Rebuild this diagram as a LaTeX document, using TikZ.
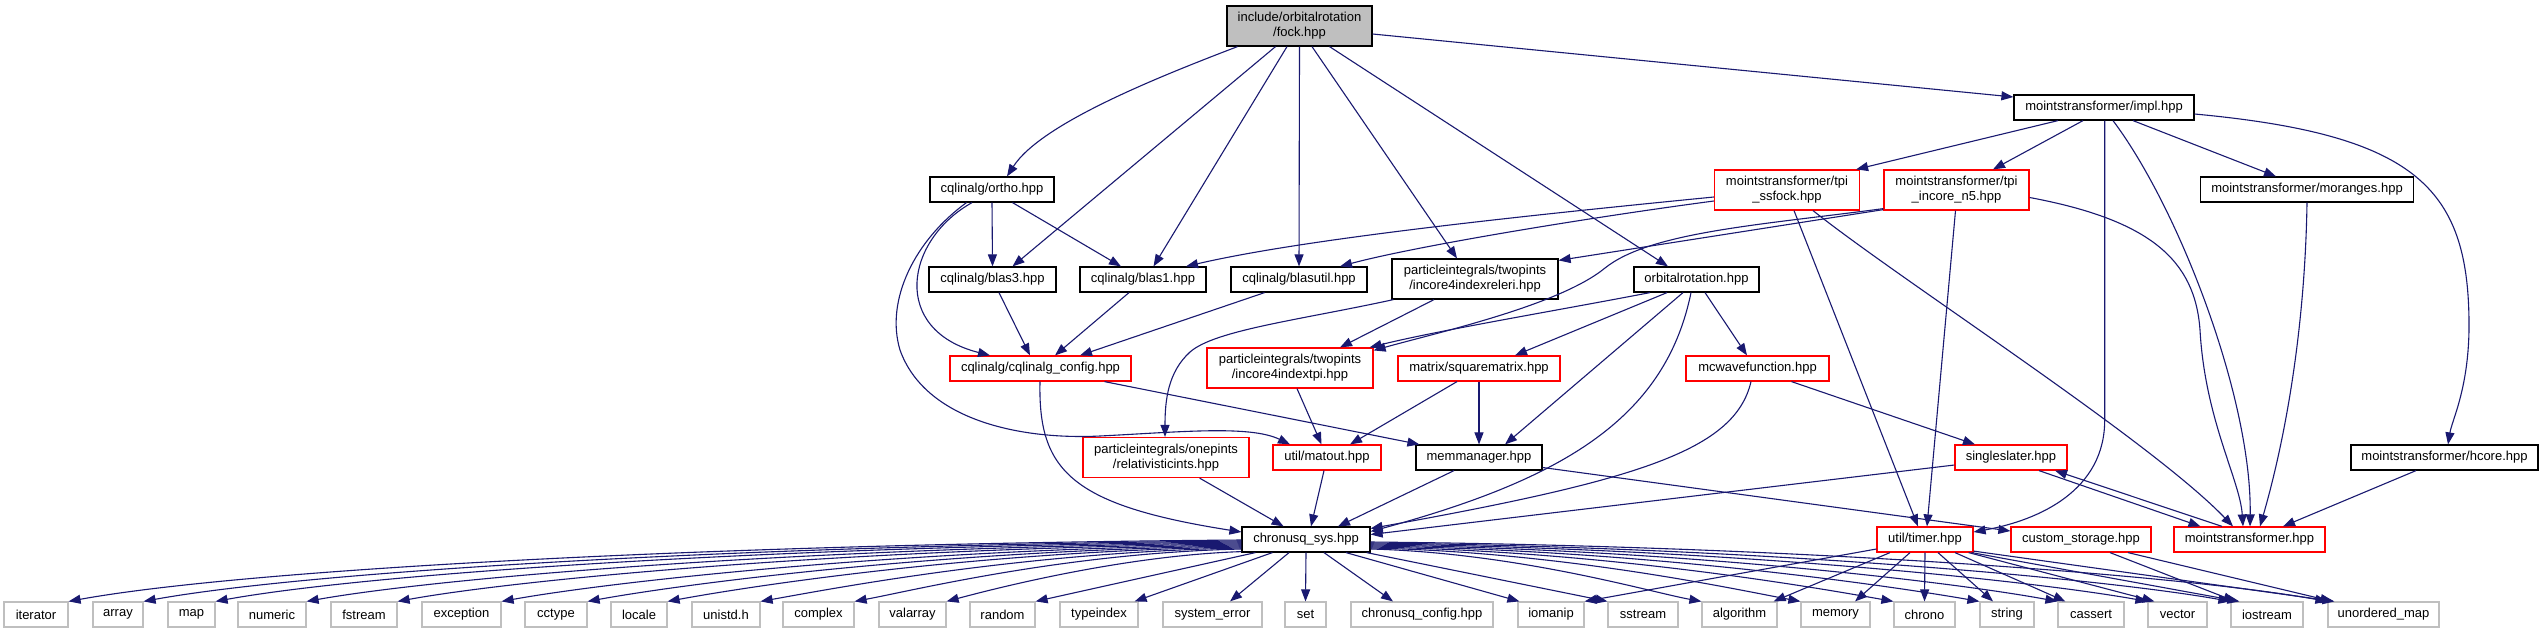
\documentclass[tikz,border=0pt]{standalone}
\usepackage{fontspec}
\setmainfont{Liberation Sans}
\usetikzlibrary{arrows.meta}
\definecolor{edgecol}{HTML}{191970}
\definecolor{lgray}{HTML}{BFBFBF}
\definecolor{nred}{HTML}{FF0000}
\begin{document}
\begin{tikzpicture}[x=1pt,y=-1pt,
  nd/.style={rectangle, line width=1.2pt, fill=white, inner sep=0pt, align=center,
    font=\fontsize{13}{15}\selectfont, minimum height=25pt},
  blk/.style={nd, draw=black},
  rednd/.style={nd, draw=nred},
  gry/.style={nd, draw=lgray},
  rootnd/.style={nd, draw=black, fill=lgray},
  tall/.style={minimum height=40pt},
  edg/.style={draw=edgecol, line width=1.1pt, -{Triangle[length=12pt,width=9pt]}}]
\fill[white] (0,0) rectangle (2544,633);
\useasboundingbox (0,0) rectangle (2544,633);

% ---------- nodes ----------
\node[rootnd, tall, minimum width=145pt] (fock) at (1299.5,26) {include/orbitalrotation\\/fock.hpp};
\node[blk, minimum width=180pt] (impl) at (2104,107.5) {mointstransformer/impl.hpp};
\node[blk, minimum width=124pt] (ortho) at (992,189.5) {cqlinalg/ortho.hpp};
\node[rednd, tall, minimum width=145pt] (ssfock) at (1787,190) {mointstransformer/tpi\\\_ssfock.hpp};
\node[rednd, tall, minimum width=145pt] (n5) at (1956.5,190) {mointstransformer/tpi\\\_incore\_n5.hpp};
\node[blk, minimum width=213pt] (moranges) at (2307,189.5) {mointstransformer/moranges.hpp};
\node[blk, minimum width=127pt] (blas3) at (992.5,279.5) {cqlinalg/blas3.hpp};
\node[blk, minimum width=126pt] (blas1) at (1143,279.5) {cqlinalg/blas1.hpp};
\node[blk, minimum width=136pt] (blasutil) at (1299,279.5) {cqlinalg/blasutil.hpp};
\node[blk, tall, minimum width=166pt] (releri) at (1475,279) {particleintegrals/twopints\\/incore4indexreleri.hpp};
\node[blk, minimum width=125pt] (orbrot) at (1696.5,279.5) {orbitalrotation.hpp};
\node[rednd, minimum width=181pt] (cqconfig) at (1040.5,368.5) {cqlinalg/cqlinalg\_config.hpp};
\node[rednd, tall, minimum width=166pt] (pti) at (1290,368) {particleintegrals/twopints\\/incore4indextpi.hpp};
\node[rednd, minimum width=162pt] (sqm) at (1479,368.5) {matrix/squarematrix.hpp};
\node[rednd, minimum width=143pt] (mcwave) at (1757.5,368.5) {mcwavefunction.hpp};
\node[rednd, tall, minimum width=166pt] (relativ) at (1166,457.5) {particleintegrals/onepints\\/relativisticints.hpp};
\node[rednd, minimum width=108pt] (matout) at (1327,457.5) {util/matout.hpp};
\node[blk, minimum width=126pt] (memman) at (1479,457.5) {memmanager.hpp};
\node[rednd, minimum width=112pt] (sslater) at (2011,457.5) {singleslater.hpp};
\node[blk, minimum width=187pt] (hcore) at (2444.5,457.5) {mointstransformer/hcore.hpp};
\node[blk, minimum width=128pt] (csys) at (1306,539.5) {chronusq\_sys.hpp};
\node[rednd, minimum width=96pt] (timer) at (1925,539.5) {util/timer.hpp};
\node[rednd, minimum width=140pt] (cstore) at (2081,539.5) {custom\_storage.hpp};
\node[rednd, minimum width=151pt] (mtrans) at (2249.5,539.5) {mointstransformer.hpp};

% bottom row
\node[gry, minimum width=64pt] (iter) at (36,614.5) {iterator};
\node[gry, minimum width=50pt] (array) at (118,614.5) {array};
\node[gry, minimum width=47pt] (map) at (191.5,614.5) {map};
\node[gry, minimum width=68pt] (numeric) at (272,614.5) {numeric};
\node[gry, minimum width=66pt] (fstream) at (364,614.5) {fstream};
\node[gry, minimum width=79pt] (exception) at (461.5,614.5) {exception};
\node[gry, minimum width=62pt] (cctype) at (556,614.5) {cctype};
\node[gry, minimum width=56pt] (locale) at (639,614.5) {locale};
\node[gry, minimum width=68pt] (unistd) at (726,614.5) {unistd.h};
\node[gry, minimum width=71pt] (complex) at (818.5,614.5) {complex};
\node[gry, minimum width=67pt] (valarray) at (912.5,614.5) {valarray};
\node[gry, minimum width=65pt] (random) at (1002.5,614.5) {random};
\node[gry, minimum width=78pt] (typeindex) at (1099,614.5) {typeindex};
\node[gry, minimum width=99pt] (syserr) at (1212.5,614.5) {system\_error};
\node[gry, minimum width=41pt] (set) at (1305.5,614.5) {set};
\node[gry, minimum width=142pt] (cqcfg) at (1422,614.5) {chronusq\_config.hpp};
\node[gry, minimum width=66pt] (iomanip) at (1551,614.5) {iomanip};
\node[gry, minimum width=70pt] (sstream) at (1643,614.5) {sstream};
\node[gry, minimum width=75pt] (algorithm) at (1739.5,614.5) {algorithm};
\node[gry, minimum width=69pt] (memory) at (1835.5,614.5) {memory};
\node[gry, minimum width=61pt] (chrono) at (1924.5,614.5) {chrono};
\node[gry, minimum width=54pt] (string) at (2007,614.5) {string};
\node[gry, minimum width=66pt] (cassert) at (2091,614.5) {cassert};
\node[gry, minimum width=59pt] (vector) at (2177.5,614.5) {vector};
\node[gry, minimum width=72pt] (iostream) at (2267,614.5) {iostream};
\node[gry, minimum width=111pt] (umap) at (2383.5,614.5) {unordered\_map};

% ---------- edges ----------
% fock
\draw[edg] ([xshift=-62pt]fock.south) .. controls (1150,80) and (1040,125) .. ([xshift=15pt]ortho.north);
\draw[edg] ([xshift=-24pt]fock.south) -- ([xshift=20pt]blas3.north);
\draw[edg] ([xshift=-12.5pt]fock.south) -- ([xshift=10.5pt]blas1.north);
\draw[edg] (fock.south) -- (blasutil.north);
\draw[edg] ([xshift=12.5pt]fock.south) -- ([xshift=-18pt]releri.north);
\draw[edg] ([xshift=30pt]fock.south) -- ([xshift=-28.5pt]orbrot.north);
\draw[edg] ([yshift=-8pt]fock.east) -- ([yshift=10.5pt]impl.west);
% ortho
\draw[edg] (ortho.south) -- (blas3.north);
\draw[edg] ([xshift=20.5pt]ortho.south) -- ([xshift=-22pt]blas1.north);
\draw[edg] ([xshift=-20pt]ortho.south) .. controls (905,240) and (890,330) .. ([xshift=-50.5pt]cqconfig.north);
\draw[edg] ([xshift=-25.5pt]ortho.south) .. controls (915,240) and (885,300) .. (900,350)
   .. controls (925,420) and (1020,440) .. (1100,436) .. controls (1180,432) and (1250,425) .. ([xshift=-37pt]matout.north);
% blas
\draw[edg] ([xshift=6.5pt]blas3.south) -- ([xshift=-10.5pt]cqconfig.north);
\draw[edg] ([xshift=-14pt]blas1.south) -- ([xshift=14.5pt]cqconfig.north);
\draw[edg] ([xshift=-34.4pt]blasutil.south) -- ([xshift=39.5pt]cqconfig.north);
% releri
\draw[edg] ([xshift=-41pt]releri.south) -- ([xshift=50pt]pti.north);
\draw[edg] ([xshift=2pt]releri.south west) .. controls (1300,320) and (1215,330) .. (1190,352)
   .. controls (1168,372) and (1165,400) .. ([xshift=-1pt]relativ.north);
% orbitalrotation
\draw[edg] ([xshift=-46.5pt]orbrot.south) .. controls (1560,310) and (1440,330) .. ([xshift=-4pt]pti.north east);
\draw[edg] ([xshift=-29.5pt]orbrot.south) -- ([xshift=36pt]sqm.north);
\draw[edg] ([xshift=-13.5pt]orbrot.south) -- ([xshift=26pt]memman.north);
\draw[edg] ([xshift=-5.5pt]orbrot.south) .. controls (1665,420) and (1560,480) .. ([yshift=8pt]csys.east);
\draw[edg] ([xshift=8.5pt]orbrot.south) -- ([xshift=-10.5pt]mcwave.north);
% tpi_ssfock
\draw[edg] ([yshift=-7pt]ssfock.west) .. controls (1500,218) and (1300,240) .. ([xshift=43pt]blas1.north);
\draw[edg] ([yshift=-11pt]ssfock.west) .. controls (1600,216) and (1420,245) .. ([xshift=41pt]blasutil.north);
\draw[edg] ([xshift=7pt]ssfock.south) -- ([xshift=-7pt]timer.north);
\draw[edg] ([xshift=26pt]ssfock.south) .. controls (1900,280) and (2150,440) .. ([xshift=-16.5pt]mtrans.north);
% tpi_incore_n5
\draw[edg] ([yshift=1pt]n5.south west) -- ([yshift=-2pt]releri.north east);
\draw[edg] ([yshift=2pt]n5.south west) .. controls (1760,225) and (1650,232) .. (1605,268)
   .. controls (1560,305) and (1440,332) .. ([yshift=-3pt]pti.north east);
\draw[edg] ([xshift=-1pt]n5.south) -- ([xshift=2pt]timer.north);
\draw[edg] ([yshift=-7.5pt]n5.east) .. controls (2150,220) and (2195,260) .. (2200,330)
   .. controls (2205,420) and (2240,480) .. ([xshift=-6.5pt]mtrans.north);
% impl
\draw[edg] ([xshift=-46pt]impl.south) -- ([xshift=-4pt]ssfock.north east);
\draw[edg] ([xshift=-21pt]impl.south) -- ([xshift=36.5pt]n5.north);
\draw[edg] ([xshift=0.7pt]impl.south) -- (2104.7,420) .. controls (2104.7,490) and (2040,520) .. ([yshift=7.5pt]timer.east);
\draw[edg] ([xshift=9pt]impl.south) .. controls (2180,210) and (2252,400) .. ([xshift=0.5pt]mtrans.north);
\draw[edg] ([xshift=29pt]impl.south) -- ([xshift=-31pt]moranges.north);
\draw[edg] ([yshift=-6.5pt]impl.east) .. controls (2420,135) and (2470,190) .. (2469,330)
   .. controls (2468,390) and (2452,420) .. ([xshift=3.5pt]hcore.north);
% moranges, hcore
\draw[edg] (moranges.south) .. controls (2305,330) and (2285,440) .. ([xshift=10.5pt]mtrans.north);
\draw[edg] ([xshift=-28.5pt]hcore.south) -- ([xshift=33.5pt]mtrans.north);
% singleslater / mointstransformer
\draw[edg] ([xshift=28pt]sslater.south) -- ([xshift=-49pt]mtrans.north);
\draw[edg] ([xshift=-27.5pt]mtrans.north) -- ([xshift=44pt]sslater.south);
\draw[edg] ([yshift=-7.5pt]sslater.west) -- ([yshift=5pt]csys.east);
% mcwavefunction
\draw[edg] ([xshift=34pt]mcwave.south) -- ([xshift=-36pt]sslater.north);
\draw[edg] ([xshift=-6.5pt]mcwave.south) .. controls (1735,450) and (1640,480) .. ([yshift=11pt]csys.east);
% memmanager
\draw[edg] ([xshift=-25pt]memman.south) -- ([xshift=32pt]csys.north);
\draw[edg] ([yshift=-10pt]memman.east) -- ([yshift=8.5pt]cstore.west);
% cqlinalg_config
\draw[edg] ([xshift=-0.5pt]cqconfig.south) .. controls (1038,470) and (1070,505) .. ([yshift=7.5pt]csys.west);
\draw[edg] ([xshift=64pt]cqconfig.south) -- ([xshift=4pt]memman.north west);
% pti, squarematrix, relativistic, matout
\draw[edg] ([xshift=7pt]pti.south) -- ([xshift=-5.5pt]matout.north);
\draw[edg] ([xshift=-22pt]sqm.south) -- ([xshift=23pt]matout.north);
\draw[edg] (sqm.south) -- (memman.north);
\draw[edg] ([xshift=33.6pt]relativ.south) -- ([xshift=-22.4pt]csys.north);
\draw[edg] ([xshift=-3pt]matout.south) -- ([xshift=5pt]csys.north);

% chronusq_sys fan, left
\draw[edg] ([yshift=-0.5pt]csys.west) .. controls +(-529,4) and +(176,-32) .. (iter.north east);
\draw[edg] ([yshift=-1.5pt]csys.west) .. controls +(-495,4) and +(165,-30) .. (array.north east);
\draw[edg] ([yshift=-2.5pt]csys.west) .. controls +(-463,4) and +(154,-28) .. (map.north east);
\draw[edg] ([yshift=-3.5pt]csys.west) .. controls +(-422,4) and +(141,-25) .. (numeric.north east);
\draw[edg] ([yshift=-4.5pt]csys.west) .. controls +(-381,4) and +(127,-23) .. (fstream.north east);
\draw[edg] ([yshift=-5.5pt]csys.west) .. controls +(-334,4) and +(111,-20) .. (exception.north east);
\draw[edg] ([yshift=-6.5pt]csys.west) .. controls +(-296,4) and +(99,-18) .. (cctype.north east);
\draw[edg] ([yshift=-7.5pt]csys.west) .. controls +(-260,4) and +(87,-16) .. (locale.north east);
\draw[edg] ([yshift=-8.5pt]csys.west) .. controls +(-218,4) and +(73,-13) .. (unistd.north east);
\draw[edg] ([yshift=-9.5pt]csys.west) .. controls +(-176,4) and +(59,-11) .. (complex.north east);
\draw[edg] ([yshift=1pt]csys.south west) .. controls +(-120,4) and +(45,-12) .. (valarray.north east);
\draw[edg] ([xshift=14pt]csys.south west) -- (random.north east);
\draw[edg] ([xshift=31pt]csys.south west) -- ([xshift=-4pt]typeindex.north east);
\draw[edg] ([xshift=-17pt]csys.south) -- ([xshift=17.5pt]syserr.north);
\draw[edg] (csys.south) -- (set.north);
\draw[edg] ([xshift=18pt]csys.south) -- ([xshift=-29pt]cqcfg.north);
\draw[edg] ([xshift=40pt]csys.south) -- ([xshift=2pt]iomanip.north west);
\draw[edg] ([xshift=-4pt]csys.south east) -- (sstream.north west);
% chronusq_sys fan, right
\draw[edg] ([yshift=-9.5pt]csys.east) .. controls +(149,4) and +(-50,-9) .. (algorithm.north west);
\draw[edg] ([yshift=-8.5pt]csys.east) .. controls +(194,4) and +(-65,-12) .. (memory.north west);
\draw[edg] ([yshift=-7.5pt]csys.east) .. controls +(236,4) and +(-79,-14) .. (chrono.north west);
\draw[edg] ([yshift=-6.5pt]csys.east) .. controls +(275,4) and +(-92,-16) .. (string.north west);
\draw[edg] ([yshift=-5.5pt]csys.east) .. controls +(310,4) and +(-103,-19) .. (cassert.north west);
\draw[edg] ([yshift=-4.5pt]csys.east) .. controls +(350,4) and +(-117,-21) .. (vector.north west);
\draw[edg] ([yshift=-3.5pt]csys.east) .. controls +(387,4) and +(-129,-23) .. (iostream.north west);
\draw[edg] ([yshift=-2.5pt]csys.east) .. controls +(431,4) and +(-144,-26) .. (umap.north west);

% util/timer
\draw[edg] ([yshift=-9.5pt]timer.west) -- (iomanip.north east);
\draw[edg] ([xshift=-35pt]timer.south) -- ([xshift=-4pt]algorithm.north east);
\draw[edg] ([xshift=-15pt]timer.south) -- ([xshift=19.5pt]memory.north);
\draw[edg] (timer.south) -- (chrono.north);
\draw[edg] ([xshift=13pt]timer.south) -- ([xshift=-14pt]string.north);
\draw[edg] ([xshift=30pt]timer.south) -- ([xshift=8pt]cassert.north west);
\draw[edg] ([xshift=-5pt]timer.south east) -- ([xshift=7pt]vector.north west);
\draw[edg] ([xshift=-2pt]timer.south east) -- ([xshift=9pt]iostream.north west);
\draw[edg] ([yshift=1.5pt]timer.south east) -- ([xshift=7pt]umap.north west);
% custom_storage
\draw[edg] ([xshift=29pt]cstore.south) -- ([xshift=5pt]iostream.north west);
\draw[edg] ([xshift=47pt]cstore.south) -- ([xshift=5pt]umap.north west);
\end{tikzpicture}
\end{document}
